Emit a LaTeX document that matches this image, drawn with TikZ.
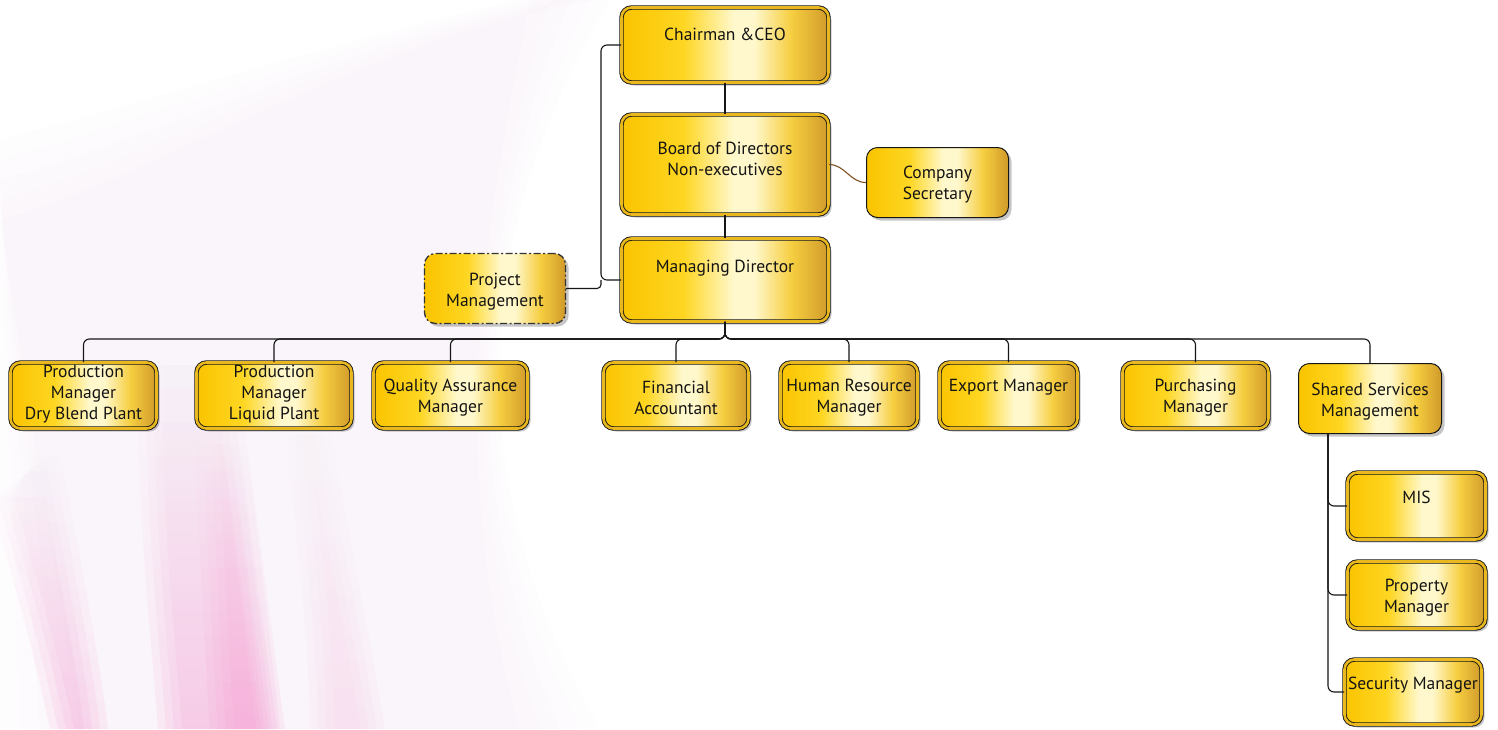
\documentclass[tikz,border=0pt]{standalone}
\usepackage{fontspec}
\setmainfont{PT Sans}
\usetikzlibrary{shadows,fadings}
\definecolor{gL}{RGB}{250,196,0}
\definecolor{gL2}{RGB}{254,214,34}
\definecolor{gM}{RGB}{255,248,204}
\definecolor{gY}{RGB}{246,206,64}
\definecolor{gR}{RGB}{208,154,42}
\definecolor{ring}{RGB}{232,184,30}
\definecolor{lnk}{RGB}{22,22,22}
\definecolor{brn}{RGB}{125,80,30}
\definecolor{pinkA}{RGB}{246,150,208}
\definecolor{pinkB}{RGB}{248,200,230}
\pgfdeclarehorizontalshading{goldsh}{100bp}{color(0bp)=(gL); color(25bp)=(gL); color(40bp)=(gL2); color(52bp)=(gM); color(57bp)=(gM); color(66bp)=(gY); color(75bp)=(gR); color(100bp)=(gR)}
\tikzset{
  gfill/.style={shading=goldsh},
  shd/.style={drop shadow={shadow xshift=3pt,shadow yshift=-3pt,opacity=0.22,fill=black}},
  dbox/.style={gfill, shd, draw=lnk, line width=0.9pt, double=ring, double distance=2.6pt, rounded corners=10pt, inner sep=0pt},
  sbox/.style={gfill, shd, draw=lnk, line width=1pt, rounded corners=11pt, inner sep=0pt},
  pbox/.style={gfill, shd, draw=black!80, line width=1.3pt, dash pattern=on 7pt off 2.5pt on 2pt off 2.5pt, rounded corners=11pt, inner sep=0pt},
  tx/.style={font=\fontsize{17.5}{21}\selectfont, align=center, inner sep=0pt, text=black!92},
  ln/.style={draw=lnk, line width=1.1pt, rounded corners=6pt},
  wash/.style={fill=#1, opacity=0.13, path fading=north},
  faint/.style={fill=pinkB, opacity=0.035},
}
\begin{document}
\begin{tikzpicture}[x=1pt,y=-1pt]
\useasboundingbox (0,0) rectangle (1498,729);
\fill[white] (0,0) rectangle (1498,729);
% background streaks (soft, layered)
\foreach \d in {0,20,40,60,80}{
  \fill[faint] (0+\d,729) -- (0,140+\d) .. controls (150,100+\d) and (380,30) .. (520+\d,0) -- (610-\d,0) .. controls (490,200) and (440,450) .. (600-\d,729) -- cycle;
}
\foreach \d in {0,8,16,24}{
  \fill[wash=pinkA] (-10+\d,500) .. controls (20+\d,600) and (40+\d,680) .. (50+\d,729) -- (108-\d,729) .. controls (100-\d,660) and (80-\d,560) .. (60-\d,450) -- cycle;
  \fill[wash=pinkA] (140+\d,360) .. controls (135+\d,500) and (150+\d,620) .. (158+\d,729) -- (285-\d,729) .. controls (270-\d,620) and (255-\d,500) .. (235-\d,360) -- cycle;
  \fill[wash=pinkA] (195+\d,440) .. controls (200+\d,560) and (205+\d,660) .. (210+\d,729) -- (280-\d,729) .. controls (270-\d,640) and (258-\d,540) .. (245-\d,440) -- cycle;
  \fill[wash=pinkB] (285+\d,430) .. controls (300+\d,560) and (310+\d,660) .. (310+\d,729) -- (385-\d,729) .. controls (370-\d,640) and (350-\d,540) .. (330-\d,430) -- cycle;
}

% boxes
\node[dbox, minimum width=207, minimum height=75] (chair) at (725,45) {};
\node[dbox, minimum width=207, minimum height=100] (board) at (725,164.5) {};
\node[dbox, minimum width=207, minimum height=83] (md) at (725,280) {};
\node[sbox, minimum width=142, minimum height=70] (cs) at (937.5,182.5) {};
\node[pbox, minimum width=141, minimum height=70] (pm) at (495,288.5) {};
\node[dbox, minimum width=146, minimum height=66] (p1) at (83.5,395.5) {};
\node[dbox, minimum width=155, minimum height=66] (p2) at (274,395.5) {};
\node[dbox, minimum width=154, minimum height=66] (qa) at (450.5,395.5) {};
\node[dbox, minimum width=145, minimum height=66] (fa) at (676,395.5) {};
\node[dbox, minimum width=137, minimum height=66] (hr) at (849,395.5) {};
\node[dbox, minimum width=138, minimum height=66] (ex) at (1008.5,395.5) {};
\node[dbox, minimum width=146, minimum height=66] (pu) at (1195.5,395.5) {};
\node[sbox, minimum width=143, minimum height=70] (ss) at (1370,398.5) {};
\node[dbox, minimum width=138, minimum height=67] (mis) at (1416.5,506) {};
\node[dbox, minimum width=138, minimum height=67] (pr) at (1416.5,595) {};
\node[dbox, minimum width=137, minimum height=65] (se) at (1413,692) {};

% texts
\node[tx] (tchair) at (725,34) {Chairman \&CEO};
\node[tx] (tboard) at (725,158.5) {Board of Directors\\Non-executives};
\node[tx] (tmd) at (725,268) {Managing Director};
\node[tx] (tcs) at (937.5,185) {Company\\Secretary};
\node[tx] (tpm) at (495,291.5) {Project\\Management};
\node[tx] (tp1) at (83.5,394) {Production\\Manager\\Dry Blend Plant};
\node[tx] (tp2) at (274,394) {Production\\Manager\\Liquid Plant};
\node[tx] (tqa) at (450.5,397.5) {Quality Assurance\\Manager};
\node[tx] (tfa) at (676,397.5) {Financial\\Accountant};
\node[tx] (thr) at (849,397.5) {Human Resource\\Manager};
\node[tx] (tex) at (1008.5,387) {Export Manager};
\node[tx] (tpu) at (1195.5,397.5) {Purchasing\\Manager};
\node[tx] (tss) at (1370,401.5) {Shared Services\\Management};
\node[tx] (tmis) at (1416.5,497) {MIS};
\node[tx] (tpr) at (1416.5,597.5) {Property\\Manager};
\node[tx] (tse) at (1413,685) {Security Manager};

% connectors
\draw[ln] (chair.south) -- (board.north);
\draw[ln] (board.south) -- (md.north);
\draw[ln] (chair.west) -| (601,280) -- (md.west);
\draw[ln, rounded corners=4pt] (pm.east) -| (601,280);
\draw[draw=brn, line width=1.1pt] (board.east) to[out=0,in=180] (cs.west);
\foreach \c in {p1,p2,qa,fa,hr,ex,pu,ss}{
  \draw[ln] (md.south) -- ++(0,17) -| (\c.north);
}
\coordinate (ssb) at (1328,434);
\draw[ln] (ssb) |- (mis.west);
\draw[ln] (ssb) |- (pr.west);
\draw[ln] (ssb) |- (se.west);
\end{tikzpicture}
\end{document}
